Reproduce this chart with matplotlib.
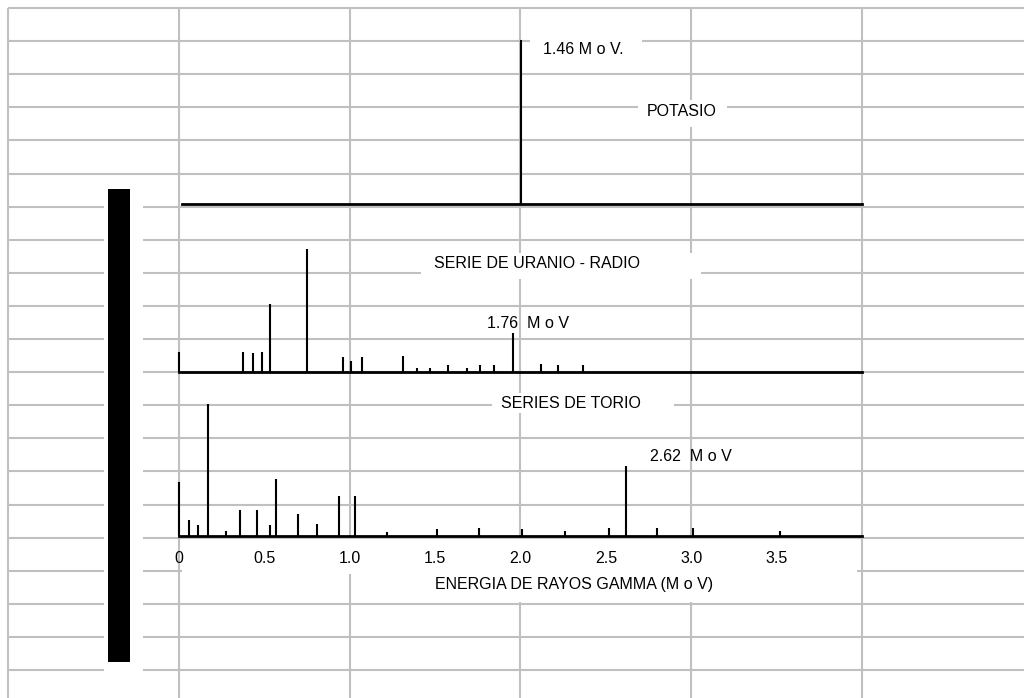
import matplotlib
matplotlib.use("Agg")
import matplotlib.pyplot as plt
from matplotlib.patches import Rectangle

plt.rcParams["font.family"] = ["Liberation Sans", "DejaVu Sans"]
plt.rcParams["font.size"] = 11.5
TEXT_SIZE = 11.5

# ---------------------------------------------------------------------------
# Gamma-ray lines (energy in MeV on each panel's scale, relative intensity)
# ---------------------------------------------------------------------------
potasio_energy = [1.46]
potasio_intensity = [124]
potasio_peak = 1.46

uranio_energy = [0.00, 0.337, 0.390, 0.437, 0.480, 0.675, 0.864, 0.906, 0.964,
                 1.181, 1.254, 1.323, 1.418, 1.518, 1.586, 1.660, 1.76, 1.908,
                 1.998, 2.129]
uranio_intensity = [15, 15, 14, 15, 51, 93, 11, 8, 11,
                    12, 3, 3, 5, 3, 5, 5, 29, 6,
                    5, 5]
uranio_peak = 1.76

torio_energy = [0.00, 0.059, 0.111, 0.170, 0.275, 0.357, 0.457, 0.533, 0.568,
                0.697, 0.808, 0.937, 1.031, 1.218, 1.511, 1.757, 2.009, 2.261,
                2.518, 2.62, 2.799, 3.010, 3.520]
torio_intensity = [41, 12, 8, 100, 4, 20, 20, 8, 43,
                   17, 9, 30, 30, 3, 5, 6, 5, 4,
                   6, 53, 6, 6, 4]
torio_peak = 2.62

tick_values = [0, 0.5, 1.0, 1.5, 2.0, 2.5, 3.0, 3.5]
tick_labels = ["0", "0.5", "1.0", "1.5", "2.0", "2.5", "3.0", "3.5"]

titulo_potasio = "POTASIO"
titulo_uranio = "SERIE DE URANIO - RADIO"
titulo_torio = "SERIES DE TORIO"
titulo_eje = "ENERGIA DE RAYOS GAMMA (M o V)"

# ---------------------------------------------------------------------------
# Layout (pixels, origin top-left)
# ---------------------------------------------------------------------------
W, H, DPI = 1024, 698, 100
PX_PER_UNIT = 1.32          # vertical pixels per intensity unit
GRID_X0, GRID_Y0 = 8, 8
COL_W, ROW_H = 170.8, 33.1
N_COLS, N_ROWS = 6, 21
GRID_COLOR = "#c0c0c0"


def fig_box(x0, y0, x1, y1):
    """Pixel box (top-left origin) -> figure-fraction [l, b, w, h]."""
    return [x0 / W, 1 - y1 / H, (x1 - x0) / W, (y1 - y0) / H]


def fig_pt(x, y):
    return x / W, 1 - y / H


fig = plt.figure(figsize=(W / DPI, H / DPI), dpi=DPI, facecolor="white")

# Background sheet: ruled grid, white label panels and the black side bar
bg = fig.add_axes([0, 0, 1, 1], zorder=0)
bg.set_xlim(0, W)
bg.set_ylim(H, 0)
bg.axis("off")

for i in range(N_COLS):
    bg.vlines(GRID_X0 + i * COL_W, GRID_Y0, H, color=GRID_COLOR, lw=1.5, zorder=1)
for j in range(N_ROWS):
    bg.hlines(GRID_Y0 + j * ROW_H, GRID_X0, W, color=GRID_COLOR, lw=1.5, zorder=1)

white_panels = [(104, 178, 143, 698), (530, 30, 642, 62), (638, 100, 727, 127),
                (421, 253, 701, 279), (492, 393, 674, 413),
                (182, 539, 857, 574), (405, 571, 857, 602)]
for x0, y0, x1, y1 in white_panels:
    bg.add_patch(Rectangle((x0, y0), x1 - x0, y1 - y0, facecolor="white",
                           edgecolor="none", zorder=2))
bg.add_patch(Rectangle((108, 189), 22, 473, facecolor="black",
                       edgecolor="none", zorder=3))


def spectrum_axes(box, xlim, energies, intensities):
    x0, y0, x1, y1 = box
    ax = fig.add_axes(fig_box(x0, y0, x1, y1), zorder=1)
    ax.patch.set_alpha(0)
    ax.set_xlim(*xlim)
    ax.set_ylim(0, (y1 - y0) / PX_PER_UNIT)
    for side in ("top", "left", "right"):
        ax.spines[side].set_visible(False)
    ax.spines["bottom"].set_linewidth(2.0)
    ax.set_yticks([])
    ax.set_xticks([])
    ax.vlines(energies, 0, intensities, color="black", lw=1.5, clip_on=False)
    return ax


ax_k = spectrum_axes((182, 30, 862, 203.5), (0, 2.93),
                     potasio_energy, potasio_intensity)
ax_u = spectrum_axes((179, 240, 862, 371.5), (0, 3.6),
                     uranio_energy, uranio_intensity)
ax_t = spectrum_axes((179, 395, 862, 536), (0, 4.0),
                     torio_energy, torio_intensity)

# Energy axis under the thorium spectrum
ax_t.set_xticks(tick_values, tick_labels)
ax_t.tick_params(axis="x", length=0, pad=11, labelsize=TEXT_SIZE)
ax_t.set_xlabel(titulo_eje, fontsize=TEXT_SIZE)
ax_t.xaxis.set_label_coords((574 - 179) / 683, (536 - 584) / 141)
ax_t.xaxis.label.set_va("center")


def peak_label(ax, energies, intensities, peak, fmt, offset):
    k = energies.index(peak)
    ax.annotate(fmt.format(peak), xy=(peak, intensities[k]), xytext=offset,
                textcoords="offset pixels", ha="center", va="center",
                fontsize=TEXT_SIZE, annotation_clip=False)


peak_label(ax_k, potasio_energy, potasio_intensity, potasio_peak,
           "{:.2f} M o V.", (62, -10))
peak_label(ax_u, uranio_energy, uranio_intensity, uranio_peak,
           "{:.2f}  M o V", (15, 10))
peak_label(ax_t, torio_energy, torio_intensity, torio_peak,
           "{:.2f}  M o V", (65, 10))

# Series titles
for text, (x, y) in [(titulo_potasio, (682, 111.5)),
                     (titulo_uranio, (537, 263.5)),
                     (titulo_torio, (571, 403.5))]:
    fig.text(*fig_pt(x, y), text, ha="center", va="center",
             fontsize=TEXT_SIZE, zorder=5)

fig.savefig("out.png", dpi=DPI, facecolor="white")
